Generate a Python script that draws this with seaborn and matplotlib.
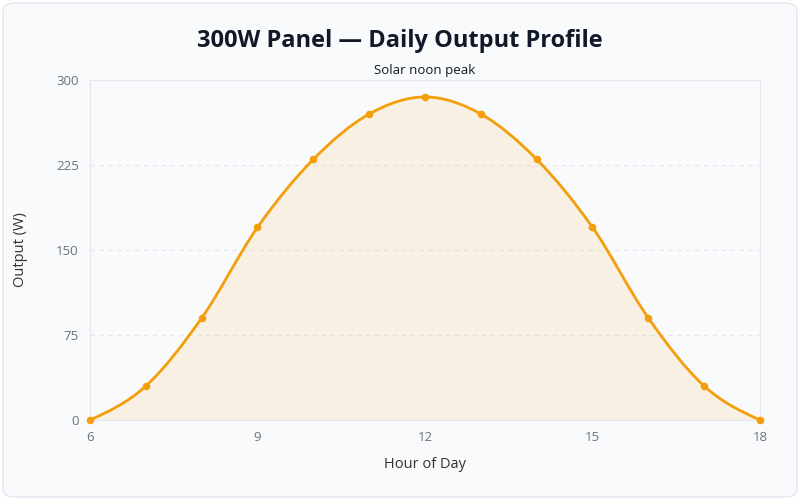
import numpy as np
import matplotlib
matplotlib.use("Agg")
import matplotlib.pyplot as plt
from matplotlib.path import Path
from matplotlib.patches import PathPatch, FancyBboxPatch
import seaborn as sns

# Data
hours = [6, 7, 8, 9, 10, 11, 12, 13, 14, 15, 16, 17, 18]
output_w = [0, 30, 90, 170, 230, 270, 285, 270, 230, 170, 90, 30, 0]
y_ticks = [0, 75, 150, 225, 300]
x_ticks = [6, 9, 12, 15, 18]

line_color = "#f59e0b"
bg_color = "#f8fafc"

sns.set_theme(style="white")
plt.rcParams["font.family"] = ["Open Sans", "DejaVu Sans"]


def monotone_path(xs, ys):
    # monotone cubic bezier through the points (like d3 curveMonotoneX)
    xs = np.asarray(xs, float)
    ys = np.asarray(ys, float)
    h = np.diff(xs)
    s = np.diff(ys) / h
    n = len(xs)
    t = np.zeros(n)
    for i in range(1, n - 1):
        p = (s[i - 1] * h[i] + s[i] * h[i - 1]) / (h[i - 1] + h[i])
        t[i] = (np.sign(s[i - 1]) + np.sign(s[i])) * min(abs(s[i - 1]), abs(s[i]), 0.5 * abs(p))
    t[0] = (3 * s[0] - t[1]) / 2
    t[-1] = (3 * s[-1] - t[-2]) / 2
    verts = [(xs[0], ys[0])]
    codes = [Path.MOVETO]
    for i in range(n - 1):
        d = h[i] / 3
        verts += [(xs[i] + d, ys[i] + d * t[i]),
                  (xs[i + 1] - d, ys[i + 1] - d * t[i + 1]),
                  (xs[i + 1], ys[i + 1])]
        codes += [Path.CURVE4] * 3
    return verts, codes


fig = plt.figure(figsize=(8, 5), dpi=100)
fig.patch.set_facecolor("white")
card = FancyBboxPatch((0.004, 0.006), 0.992, 0.988,
                      boxstyle="round,pad=0,rounding_size=0.015",
                      transform=fig.transFigure, facecolor=bg_color,
                      edgecolor="#e2e8f0", linewidth=1, zorder=-5)
fig.patches.append(card)

ax = fig.add_axes([0.1125, 0.16, 0.8375, 0.68])
ax.set_zorder(2)
ax.set_facecolor(bg_color)

verts, codes = monotone_path(hours, output_w)

# filled area under the curve
fill_verts = verts + [(hours[-1], 0), (hours[0], 0), (hours[0], 0)]
fill_codes = codes + [Path.LINETO, Path.LINETO, Path.CLOSEPOLY]
ax.add_patch(PathPatch(Path(fill_verts, fill_codes), facecolor=line_color,
                       alpha=0.1, edgecolor="none", zorder=2))
ax.add_patch(PathPatch(Path(verts, codes), facecolor="none", edgecolor=line_color,
                       linewidth=2, zorder=3, capstyle="round"))

sns.scatterplot(x=hours, y=output_w, ax=ax, color=line_color, s=30,
                edgecolor=line_color, linewidth=0, zorder=4, clip_on=False)

ax.set_xlim(6, 18)
ax.set_ylim(0, 300)
ax.set_xticks(x_ticks)
ax.set_yticks(y_ticks)
ax.tick_params(axis="both", length=0, labelsize=9.5, colors="#6b7280", pad=8)

for v in y_ticks[1:-1]:
    ax.axhline(v, color="#e5e7eb", linewidth=0.8, linestyle=(0, (4, 4)), zorder=1)

for sp in ax.spines.values():
    sp.set_color("#e5e7eb")
    sp.set_linewidth(0.8)

ax.set_xlabel("Hour of Day", fontsize=10.5, color="#333333", labelpad=9)
ax.set_ylabel("Output (W)", fontsize=10.5, color="#333333", labelpad=20)

ax.text(12, 303, "Solar noon peak", ha="center", va="bottom", fontsize=9.5,
        color="#111827", fontweight="medium")

fig.text(0.5, 0.918, "300W Panel \u2014 Daily Output Profile", ha="center",
         va="center", fontsize=17, fontweight="bold", color="#111827")

fig.savefig("out.png", dpi=100, facecolor=fig.get_facecolor())
